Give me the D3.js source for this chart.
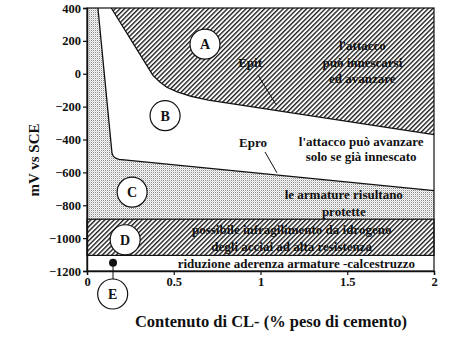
<!DOCTYPE html>
<html>
<head>
<meta charset="utf-8">
<script src="https://cdn.jsdelivr.net/npm/d3@7"></script>
<style>
  body { margin: 0; background: #fff; }
  text { font-family: "Liberation Serif", "DejaVu Serif", serif; font-weight: bold; fill: #111; }
</style>
</head>
<body>
<div id="chart"></div>
<script>
// Potential thresholds (mV vs SCE) against chloride content (% cement weight)
const epit = [[0.14, 400], [0.38, -10], [0.42, -50], [0.46, -82], [0.52, -110], [0.6, -138], [0.7, -160], [2, -370]];
const epro = [[0.063, 400], [0.144, -482], [0.152, -503], [0.165, -514], [0.185, -521], [0.68, -573], [2, -711]];
const bandD = [-885, -1105];
const bandE = [-1105, -1200];
const xTicks = [0, 0.5, 1, 1.5, 2];
const yTicks = [400, 200, 0, -200, -400, -600, -800, -1000, -1200];

const circles = [
    { k: "A", x: 0.68, y: 180 },
    { k: "B", x: 0.45, y: -255 },
    { k: "C", x: 0.26, y: -720 },
    { k: "D", x: 0.22, y: -1010 },
    { k: "E", x: 0.148, y: -1340 }
];
const notes = [
    { x: 1.587, y: 144, gap: 16.5, lines: ["l'attacco", "può innescarsi", "ed avanzare"] },
    { x: 1.58, y: -440, gap: 15, lines: ["l'attacco può avanzare", "solo se già innescato"] },
    { x: 1.48, y: -762, gap: 16.5, lines: ["le armature risultano", "protette"] },
    { x: 1.18, y: -975, gap: 17, lines: ["possibile infragilimento da idrogeno", "degli acciai ad alta resistenza"] },
    { x: 1.207, y: -1183, gap: 0, lines: ["riduzione aderenza armature -calcestruzzo"] }
];
const pointers = [
    { label: "Epit", tx: 0.94, ty: 41, from: [0.985, -7], to: [1.09, -189] },
    { label: "Epro", tx: 0.957, ty: -445, from: [1.026, -476], to: [1.095, -603] }
];
const dotE = [0.15, -1150];

const margin = { top: 8, right: 40, bottom: 72, left: 87 };
const width = 474 - margin.left - margin.right;
const height = 343 - margin.top - margin.bottom;

const svg = d3.select("#chart").append("svg")
    .attr("width", 474)
    .attr("height", 343);

const defs = svg.append("defs");
const hatch = defs.append("pattern")
    .attr("id", "hatch")
    .attr("patternUnits", "userSpaceOnUse")
    .attr("width", 3.3).attr("height", 3.3)
    .attr("patternTransform", "rotate(45)");
hatch.append("rect").attr("width", 3.3).attr("height", 3.3).attr("fill", "#fff");
hatch.append("line").attr("x1", 0.7).attr("y1", 0).attr("x2", 0.7).attr("y2", 3.3)
    .attr("stroke", "#222").attr("stroke-width", 1.4);

const stip = defs.append("pattern")
    .attr("id", "stip")
    .attr("patternUnits", "userSpaceOnUse")
    .attr("width", 2).attr("height", 2);
stip.append("rect").attr("width", 2).attr("height", 2).attr("fill", "#fafafa");
stip.append("rect").attr("width", 1).attr("height", 1).attr("fill", "#8a8a8a");
stip.append("rect").attr("x", 1).attr("y", 1).attr("width", 1).attr("height", 1).attr("fill", "#d4d4d4");

const g = svg.append("g").attr("transform", `translate(${margin.left},${margin.top})`);

const x = d3.scaleLinear().domain([0, 2]).range([0, width]);
const y = d3.scaleLinear().domain([-1200, 400]).range([height, 0]);

const line = d3.line().x(d => x(d[0])).y(d => y(d[1]));

// region C (stippled): between left axis, Epro and band D
const cPoly = [[0, 400]].concat(epro, [[2, bandD[0]], [0, bandD[0]]]);
g.append("path").attr("d", line(cPoly) + "Z").attr("fill", "url(#stip)");

// region A (hatched): above Epit
const aPoly = epit.concat([[2, 400]]);
g.append("path").attr("d", line(aPoly) + "Z").attr("fill", "url(#hatch)");

// band D
g.append("rect")
    .attr("x", x(0)).attr("width", x(2) - x(0))
    .attr("y", y(bandD[0])).attr("height", y(bandD[1]) - y(bandD[0]))
    .attr("fill", "url(#hatch)").attr("stroke", "#111").attr("stroke-width", 1.2);

// threshold lines
g.append("path").attr("d", line(epit)).attr("fill", "none").attr("stroke", "#111").attr("stroke-width", 1.3);
g.append("path").attr("d", line(epro)).attr("fill", "none").attr("stroke", "#111").attr("stroke-width", 1.3);

// frame
g.append("rect").attr("width", width).attr("height", height)
    .attr("fill", "none").attr("stroke", "#111").attr("stroke-width", 1.2);

// axes
const yAxis = g.append("g")
    .call(d3.axisLeft(y).tickValues(yTicks).tickSize(4).tickPadding(2).tickFormat(d3.format("d")));
const xAxis = g.append("g")
    .attr("transform", `translate(0,${height})`)
    .call(d3.axisBottom(x).tickValues(xTicks).tickSize(4).tickPadding(2).tickFormat(d => d));
[xAxis, yAxis].forEach(a => {
    a.select(".domain").attr("stroke", "#111").attr("stroke-width", 1.4);
    a.selectAll(".tick line").attr("stroke", "#111").attr("stroke-width", 1.2);
    a.selectAll(".tick text").style("font-family", "Liberation Serif, serif")
        .style("font-weight", "bold").style("font-size", "12.5px").attr("fill", "#111");
});

// region notes
notes.forEach(n => {
    const t = g.append("text")
        .attr("x", x(n.x)).attr("y", y(n.y))
        .attr("text-anchor", "middle")
        .style("font-size", "13px");
    n.lines.forEach((l, i) => {
        t.append("tspan").attr("x", x(n.x)).attr("dy", i === 0 ? 0 : n.gap).text(l);
    });
});

// Epit / Epro pointers
pointers.forEach(p => {
    g.append("text").attr("x", x(p.tx)).attr("y", y(p.ty))
        .attr("text-anchor", "middle").style("font-size", "13px").text(p.label);
    g.append("line")
        .attr("x1", x(p.from[0])).attr("y1", y(p.from[1]))
        .attr("x2", x(p.to[0])).attr("y2", y(p.to[1]))
        .attr("stroke", "#111").attr("stroke-width", 1);
});

// marker for E
const eCircle = circles.find(c => c.k === "E");
g.append("line")
    .attr("x1", x(dotE[0])).attr("y1", y(dotE[1]))
    .attr("x2", x(dotE[0])).attr("y2", y(eCircle.y) - 15)
    .attr("stroke", "#111").attr("stroke-width", 1);
g.append("circle").attr("cx", x(dotE[0])).attr("cy", y(dotE[1])).attr("r", 4).attr("fill", "#111");

// region circles
const cg = g.selectAll(".lab").data(circles).enter().append("g")
    .attr("transform", d => `translate(${x(d.x)},${y(d.y)})`);
cg.append("circle").attr("r", 15).attr("fill", "#fff").attr("stroke", "#111").attr("stroke-width", 1.2);
cg.append("text").attr("text-anchor", "middle").attr("dy", "0.36em")
    .style("font-size", "14px").text(d => d.k);

// axis titles
svg.append("text")
    .attr("transform", `translate(39,${margin.top + y(-525)}) rotate(-90)`)
    .attr("text-anchor", "middle")
    .style("font-size", "15px")
    .text("mV vs SCE");
svg.append("text")
    .attr("x", 271).attr("y", 327)
    .attr("text-anchor", "middle")
    .style("font-size", "16.5px")
    .text("Contenuto di CL- (% peso di cemento)");
</script>
</body>
</html>
